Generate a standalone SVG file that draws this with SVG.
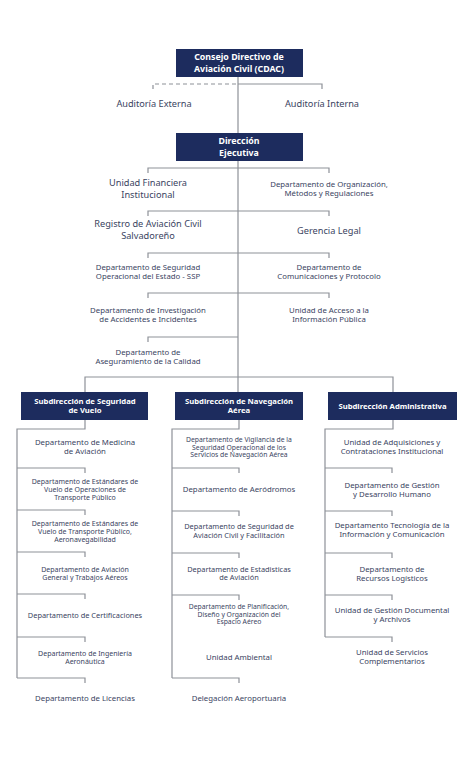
<svg xmlns="http://www.w3.org/2000/svg" width="474" height="762" viewBox="0 0 474 762">
<style>
.bg{fill:#ffffff}
.box{fill:#1d2c5e}
.bt{font-family:"Noto Sans",sans-serif;font-weight:bold;fill:#ffffff;font-size:8.8px;text-anchor:middle}
.bs{font-size:7.7px}
.t{font-family:"Noto Sans",sans-serif;fill:#3a4461;text-anchor:middle}
.l{font-size:9.2px}
.m{font-size:7.8px}
.n{font-size:7.4px}
.s{font-size:7px}
.xs{font-size:6.8px}
.ln{stroke:#8e9198;stroke-width:1.2;fill:none}
.dash{stroke-dasharray:4 3}
</style>
<rect class="bg" x="0" y="0" width="474" height="762"/>
<g id="connectors">
  <path class="ln dash" d="M153,89 V84 H238"/>
  <path class="ln" d="M238,84 H322 V89"/>
  <path class="ln" d="M238,76 V133"/>
  <path class="ln" d="M238,161 V392"/>
  <path class="ln" d="M148,173 V168 H329 V173"/>
  <path class="ln" d="M148,216 V211 H329 V216"/>
  <path class="ln" d="M148,258 V253 H329 V258"/>
  <path class="ln" d="M148,298 V293 H329 V298"/>
  <path class="ln" d="M148,342 V337 H238"/>
  <path class="ln" d="M85,392 V377 H393 V392"/>
  <path class="ln" d="M85,420 V429 H17 V678"/>
  <path class="ln" d="M17,468 H85 V473 M17,510 H85 V515 M17,552 H85 V557 M17,594 H85 V599 M17,637 H85 V642 M17,678 H85 V683"/>
  <path class="ln" d="M239,420 V429 H172 V678"/>
  <path class="ln" d="M172,468 H239 V473 M172,511 H239 V516 M172,553 H239 V558 M172,595 H239 V600 M172,678 H239 V683"/>
  <path class="ln" d="M393,420 V429 H325 V637"/>
  <path class="ln" d="M325,468 H392 V473 M325,511 H392 V516 M325,553 H392 V558 M325,595 H392 V600 M325,637 H392 V642"/>
</g>
<g id="cdac"><rect class="box" x="176" y="49" width="127" height="28"/>
  <text class="bt" x="239" y="60">Consejo Directivo de</text>
  <text class="bt" x="239" y="71.5">Aviación Civil (CDAC)</text></g>
<g id="aud-ext"><text class="t l" x="154" y="107">Auditoría Externa</text></g>
<g id="aud-int"><text class="t l" x="322" y="107">Auditoría Interna</text></g>
<g id="direccion"><rect class="box" x="176" y="133" width="127" height="28"/>
  <text class="bt" x="239" y="144">Dirección</text>
  <text class="bt" x="239" y="155.5">Ejecutiva</text></g>
<g id="ufi"><text class="t l" x="148" y="186">Unidad Financiera</text><text class="t l" x="148" y="197.5">Institucional</text></g>
<g id="dom"><text class="t m" x="329" y="186.5">Departamento de Organización,</text><text class="t m" x="329" y="195.5">Métodos y Regulaciones</text></g>
<g id="rac"><text class="t l" x="148" y="227">Registro de Aviación Civil</text><text class="t l" x="148" y="239">Salvadoreño</text></g>
<g id="gl"><text class="t l" x="329" y="234">Gerencia Legal</text></g>
<g id="ssp"><text class="t m" x="148" y="269.5">Departamento de Seguridad</text><text class="t m" x="148" y="278.5">Operacional del Estado - SSP</text></g>
<g id="dcp"><text class="t m" x="329" y="269.5">Departamento de</text><text class="t m" x="329" y="278.5">Comunicaciones y Protocolo</text></g>
<g id="dia"><text class="t m" x="148" y="312.5">Departamento de Investigación</text><text class="t m" x="148" y="321.5">de Accidentes e Incidentes</text></g>
<g id="uaip"><text class="t m" x="329" y="312.5">Unidad de Acceso a la</text><text class="t m" x="329" y="321.5">Información Pública</text></g>
<g id="dac"><text class="t m" x="148" y="354.5">Departamento de</text><text class="t m" x="148" y="363.5">Aseguramiento de la Calidad</text></g>
<g id="ssv"><rect class="box" x="21" y="392" width="127" height="28"/>
  <text class="bt bs" x="85" y="403.5">Subdirección de Seguridad</text>
  <text class="bt bs" x="85" y="413">de Vuelo</text></g>
<g id="sna"><rect class="box" x="175" y="392" width="128" height="28"/>
  <text class="bt bs" x="239" y="403.5">Subdirección de Navegación</text>
  <text class="bt bs" x="239" y="413">Aérea</text></g>
<g id="sad"><rect class="box" x="328" y="392" width="129" height="28"/>
  <text class="bt bs" x="392.5" y="408.5">Subdirección Administrativa</text></g>
<g id="c1a"><text class="t m" x="85" y="444.5">Departamento de Medicina</text><text class="t m" x="85" y="453.5">de Aviación</text></g>
<g id="c1b"><text class="t s" x="85" y="483.5">Departamento de Estándares de</text><text class="t s" x="85" y="491.5">Vuelo de Operaciones de</text><text class="t s" x="85" y="499.5">Transporte Público</text></g>
<g id="c1c"><text class="t s" x="85" y="525.5">Departamento de Estándares de</text><text class="t s" x="85" y="533.5">Vuelo de Transporte Público,</text><text class="t s" x="85" y="541.5">Aeronavegabilidad</text></g>
<g id="c1d"><text class="t s" x="85" y="571.5">Departamento de Aviación</text><text class="t s" x="85" y="579.5">General y Trabajos Aéreos</text></g>
<g id="c1e"><text class="t n" x="85" y="617.5">Departamento de Certificaciones</text></g>
<g id="c1f"><text class="t s" x="85" y="655.5">Departamento de Ingeniería</text><text class="t s" x="85" y="663.5">Aeronáutica</text></g>
<g id="c1g"><text class="t m" x="85" y="700.5">Departamento de Licencias</text></g>
<g id="c2a"><text class="t xs" x="239" y="442">Departamento de Vigilancia de la</text><text class="t xs" x="239" y="449.5">Seguridad Operacional de los</text><text class="t xs" x="239" y="457">Servicios de Navegación Aérea</text></g>
<g id="c2b"><text class="t m" x="239" y="491.5">Departamento de Aeródromos</text></g>
<g id="c2c"><text class="t n" x="239" y="528.5">Departamento de Seguridad de</text><text class="t n" x="239" y="537.5">Aviación Civil y Facilitación</text></g>
<g id="c2d"><text class="t n" x="239" y="571.5">Departamento de Estadisticas</text><text class="t n" x="239" y="580">de Aviación</text></g>
<g id="c2e"><text class="t xs" x="239" y="609">Departamento de Planificación,</text><text class="t xs" x="239" y="616.5">Diseño y Organización del</text><text class="t xs" x="239" y="624">Espacio Aéreo</text></g>
<g id="c2f"><text class="t m" x="239" y="659.5">Unidad Ambiental</text></g>
<g id="c2g"><text class="t m" x="239" y="700.5">Delegación Aeroportuaria</text></g>
<g id="c3a"><text class="t m" x="392" y="444.5">Unidad de Adquisiciones y</text><text class="t m" x="392" y="453.5">Contrataciones Institucional</text></g>
<g id="c3b"><text class="t m" x="392" y="487.5">Departamento de Gestión</text><text class="t m" x="392" y="496.5">y Desarrollo Humano</text></g>
<g id="c3c"><text class="t m" x="392" y="527.5">Departamento Tecnología de la</text><text class="t m" x="392" y="536.5">Información y Comunicación</text></g>
<g id="c3d"><text class="t m" x="392" y="571.5">Departamento de</text><text class="t m" x="392" y="580.5">Recursos Logísticos</text></g>
<g id="c3e"><text class="t m" x="392" y="612.5">Unidad de Gestión Documental</text><text class="t m" x="392" y="621.5">y Archivos</text></g>
<g id="c3f"><text class="t m" x="392" y="654.5">Unidad de Servicios</text><text class="t m" x="392" y="663.5">Complementarios</text></g>
</svg>
